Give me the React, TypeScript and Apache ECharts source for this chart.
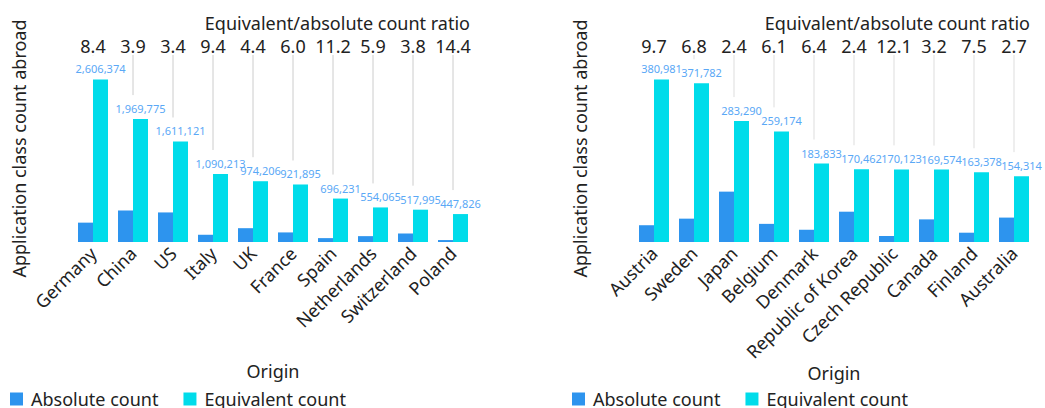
import React, { useEffect, useRef } from "react";
import * as echarts from "echarts";

// Left chart (top origins)
const leftCategories = ["Germany", "China", "US", "Italy", "UK", "France", "Spain", "Netherlands", "Switzerland", "Poland"];
const leftEquivalent = [2606374, 1969775, 1611121, 1090213, 974206, 921895, 696231, 554065, 517995, 447826];
const leftAbsolute = [310300, 505100, 473900, 116000, 221400, 153600, 62200, 93900, 136300, 31100];
const leftRatios = ["8.4", "3.9", "3.4", "9.4", "4.4", "6.0", "11.2", "5.9", "3.8", "14.4"];

// Right chart (next origins)
const rightCategories = ["Austria", "Sweden", "Japan", "Belgium", "Denmark", "Republic of Korea", "Czech Republic", "Canada", "Finland", "Australia"];
const rightEquivalent = [380981, 371782, 283290, 259174, 183833, 170462, 170123, 169574, 163378, 154314];
const rightAbsolute = [39300, 54700, 118000, 42500, 28700, 71000, 14100, 53000, 21800, 57200];
const rightRatios = ["9.7", "6.8", "2.4", "6.1", "6.4", "2.4", "12.1", "3.2", "7.5", "2.7"];

const seriesNames = ["Absolute count", "Equivalent count"];
const ratioTitle = "Equivalent/absolute count ratio";
const yName = "Application class count abroad";
const xName = "Origin";

const ABS_COLOR = "#2d94ee";
const EQ_COLOR = "#00dcea";
const LABEL_COLOR = "#5aa8f6";
const TEXT_COLOR = "#222222";
const FS = 18;

function buildSide(idx: number, cats: string[], abs: number[], eq: number[], ratios: string[], lineColor: string) {
  const xAxes = [
    {
      type: "category",
      gridIndex: idx,
      data: cats,
      position: "bottom",
      axisLine: { show: false },
      axisTick: { show: false },
      axisLabel: { interval: 0, rotate: 45, fontSize: FS, color: TEXT_COLOR, margin: 8 },
      name: xName,
      nameLocation: "middle",
      nameGap: 120,
      nameTextStyle: { fontSize: FS, color: TEXT_COLOR },
    },
    {
      type: "category",
      gridIndex: idx,
      data: cats,
      position: "top",
      axisLine: { show: false },
      axisTick: { show: false },
      axisLabel: {
        interval: 0,
        fontSize: FS,
        color: TEXT_COLOR,
        margin: 0,
        formatter: (_v: string, i: number) => ratios[i],
      },
    },
  ];
  const yAxis = {
    type: "value",
    gridIndex: idx,
    min: 0,
    max: (v: { max: number }) => v.max * 1.15,
    axisLine: { show: false },
    axisTick: { show: false },
    axisLabel: { show: false },
    splitLine: { show: false },
    name: yName,
    nameLocation: "middle",
    nameGap: 45,
    nameTextStyle: { fontSize: FS, color: TEXT_COLOR },
  };
  const series = [
    {
      type: "bar",
      name: seriesNames[0],
      xAxisIndex: idx * 2,
      yAxisIndex: idx,
      data: abs,
      barWidth: 15,
      barGap: "0%",
      itemStyle: { color: ABS_COLOR },
    },
    {
      type: "bar",
      name: seriesNames[1],
      xAxisIndex: idx * 2,
      yAxisIndex: idx,
      data: eq,
      barWidth: 15,
      barGap: "0%",
      itemStyle: { color: EQ_COLOR },
      label: {
        show: true,
        position: "top",
        fontSize: 11,
        color: LABEL_COLOR,
        formatter: (p: { value: number }) => p.value.toLocaleString("en-US"),
      },
    },
    {
      type: "custom",
      xAxisIndex: idx * 2,
      yAxisIndex: idx,
      silent: true,
      z: 1,
      data: eq.map((v, i) => [i, v]),
      encode: { x: 0, y: 1 },
      renderItem: (params: any, api: any) => {
        const pt = api.coord([api.value(0), api.value(1)]);
        const top = params.coordSys.y;
        const yEnd = pt[1] - 24;
        if (yEnd <= top) return { type: "group", children: [] };
        return {
          type: "line",
          shape: { x1: pt[0], y1: top, x2: pt[0], y2: yEnd },
          style: { stroke: lineColor, lineWidth: 1 },
        };
      },
    },
  ];
  return { xAxes, yAxis, series };
}

export default function App() {
  const ref = useRef<HTMLDivElement>(null);
  useEffect(() => {
    if (!ref.current) return;
    const chart = echarts.init(ref.current, undefined, { renderer: "svg" });
    const L = buildSide(0, leftCategories, leftAbsolute, leftEquivalent, leftRatios, "#cccccc");
    const R = buildSide(1, rightCategories, rightAbsolute, rightEquivalent, rightRatios, "#dddddd");
    const legendBase = {
      data: seriesNames,
      top: 390,
      padding: 0,
      icon: "rect",
      itemWidth: 13,
      itemHeight: 13,
      itemGap: 25,
      textStyle: { fontSize: FS, color: TEXT_COLOR, padding: [0, 0, 0, 3] },
    };
    chart.setOption({
      animation: false,
      backgroundColor: "#ffffff",
      textStyle: { fontFamily: "Noto Sans" },
      title: [
        { text: ratioTitle, right: 575, top: 14, padding: 0, textStyle: { fontSize: FS, fontWeight: "normal", color: TEXT_COLOR } },
        { text: ratioTitle, right: 15, top: 14, padding: 0, textStyle: { fontSize: FS, fontWeight: "normal", color: TEXT_COLOR } },
      ],
      legend: [
        { ...legendBase, left: 10 },
        { ...legendBase, left: 572 },
      ],
      grid: [
        { left: 73, top: 55, width: 400, height: 187, outerBoundsMode: "none" },
        { left: 634, top: 55, width: 400, height: 187, outerBoundsMode: "none" },
      ],
      xAxis: [...L.xAxes, ...R.xAxes],
      yAxis: [L.yAxis, R.yAxis],
      series: [...L.series, ...R.series],
    });
    return () => chart.dispose();
  }, []);
  return (
    <div
      ref={ref}
      style={{ position: "fixed", left: 0, top: 0, width: 1045, height: 408 }}
    />
  );
}
